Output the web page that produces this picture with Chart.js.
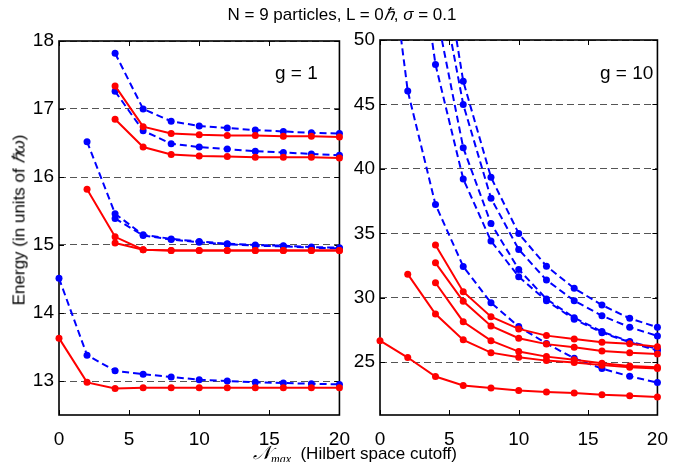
<!DOCTYPE html>
<html><head><meta charset="utf-8">
<script src="https://cdn.jsdelivr.net/npm/chart.js@4.4.1/dist/chart.umd.min.js"></script>
<style>
html,body{margin:0;padding:0;background:#fff;}
#wrap{position:relative;width:673px;height:462px;overflow:hidden;font-family:"Liberation Sans",Arial,Helvetica,sans-serif;color:#000;}
canvas{position:absolute;top:0;}
#c1{left:0;} #c2{left:345px;}
.txt{position:absolute;white-space:nowrap;line-height:1;}
#title{left:342px;top:6px;font-size:17px;transform:translateX(-50%);}
#xlabel{left:355px;top:443px;font-size:17px;transform:translateX(-50%);}
#ylabel{left:19px;top:220px;font-size:17px;transform:translate(-50%,-50%) rotate(-90deg);}
#g1{left:275px;top:63px;font-size:19px;}
#g10{left:600px;top:63px;font-size:19px;}
.cal{font-family:"DejaVu Sans","Noto Sans",serif;font-style:italic;font-size:19px;}
</style></head><body>
<div id="wrap">
<canvas id="c1" width="355" height="462"></canvas>
<canvas id="c2" width="328" height="462"></canvas>
<div class="txt" id="title">N = 9 particles, L = 0<i>ℏ</i>, <i>σ</i> = 0.1</div>
<div class="txt" id="xlabel"><span class="cal">𝒩</span><sub style="font-size:12px;font-style:italic;font-family:'Liberation Serif',serif;">max</sub>&nbsp; (Hilbert space cutoff)</div>
<div class="txt" id="ylabel">Energy (in units of <i>ℏω</i>)</div>
<div class="txt" id="g1">g = 1</div>
<div class="txt" id="g10">g = 10</div>
</div>
<script>
// Nmax cutoff values (x)
const xs = [0, 2, 4, 6, 8, 10, 12, 14, 16, 18, 20];
const xTicks = [0, 5, 10, 15, 20];

// g = 1 panel
const leftYTicks = [13, 14, 15, 16, 17, 18];
const g1Red1 = [13.63, 12.98, 12.89, 12.90, 12.90, 12.90, 12.90, 12.90, 12.90, 12.90, 12.90];
const g1Red2 = [null, 15.82, 15.12, 14.93, 14.92, 14.92, 14.92, 14.92, 14.92, 14.92, 14.92];
const g1Red3 = [null, null, 15.03, 14.93, 14.92, 14.92, 14.92, 14.92, 14.92, 14.92, 14.92];
const g1Red4 = [null, null, 16.85, 16.44, 16.33, 16.31, 16.30, 16.29, 16.29, 16.29, 16.28];
const g1Red5 = [null, null, 17.34, 16.74, 16.64, 16.62, 16.61, 16.61, 16.60, 16.60, 16.59];
const g1Blue1 = [14.51, 13.38, 13.15, 13.10, 13.06, 13.02, 13.00, 12.98, 12.97, 12.96, 12.95];
const g1Blue2 = [null, 16.52, 15.46, 15.15, 15.09, 15.05, 15.02, 15.00, 14.99, 14.97, 14.96];
const g1Blue3 = [null, null, 15.39, 15.14, 15.08, 15.04, 15.01, 14.99, 14.98, 14.96, 14.95];
const g1Blue4 = [null, null, 17.26, 16.68, 16.49, 16.44, 16.41, 16.38, 16.36, 16.34, 16.32];
const g1Blue5 = [null, null, 17.82, 17.00, 16.82, 16.75, 16.72, 16.69, 16.67, 16.65, 16.64];

// g = 10 panel
const rightYTicks = [25, 30, 35, 40, 45, 50];
const g10Red1 = [26.67, 25.36, 23.89, 23.19, 22.99, 22.80, 22.68, 22.60, 22.47, 22.39, 22.29];
const g10Red2 = [null, 31.83, 28.74, 26.73, 25.74, 25.39, 25.12, 24.97, 24.77, 24.61, 24.50];
const g10Red3 = [null, null, 34.10, 30.47, 28.53, 27.58, 27.06, 26.80, 26.55, 26.42, 26.20];
const g10Red4 = [null, null, 32.71, 29.72, 27.81, 26.86, 26.40, 26.16, 25.87, 25.74, 25.64];
const g10Red5 = [null, null, 31.16, 28.14, 26.67, 25.82, 25.43, 25.18, 24.92, 24.71, 24.61];
const g10Blue1 = [62.9, 46.05, 37.23, 32.43, 29.61, 27.76, 26.45, 25.30, 24.50, 23.90, 23.42];
const g10Blue2 = [null, 63.3, 48.10, 39.22, 34.41, 31.63, 29.77, 28.33, 27.29, 26.55, 25.90];
const g10Blue3 = [null, null, 52.5, 41.64, 35.76, 32.20, 29.90, 28.45, 27.37, 26.60, 26.03];
const g10Blue4 = [null, null, 56.4, 45.00, 37.72, 33.75, 31.37, 29.77, 28.60, 27.71, 27.04];
const g10Blue5 = [null, null, 60.1, 46.80, 39.35, 34.98, 32.45, 30.73, 29.43, 28.40, 27.71];

const RED = '#ff0000', BLUE = '#0000ff';
const FONT = {family: "'Liberation Sans', Arial, sans-serif", size: 19};

function pts(arr) { return xs.map((x, i) => ({x: x, y: arr[i]})); }
function ds(arr, color, dashed) {
  return {
    data: pts(arr),
    borderColor: color, backgroundColor: color,
    borderWidth: 2, borderDash: dashed ? [7, 4] : [],
    pointRadius: 3.5, pointBorderWidth: 0, pointBackgroundColor: color,
    tension: 0, clip: {left: 8, right: 8, top: 0, bottom: 8}, fill: false
  };
}

const framePlugin = {
  id: 'frame',
  beforeDatasetsDraw(chart) {
    const ctx = chart.ctx, a = chart.chartArea;
    const xS = chart.scales.x, yS = chart.scales.y;
    const yt = chart.options.plugins.frame.yt;
    ctx.save();
    ctx.strokeStyle = '#000';
    ctx.lineWidth = 1;
    ctx.setLineDash([]);
    ctx.beginPath();
    xTicks.forEach(v => {
      const px = Math.round(xS.getPixelForValue(v)) + 0.5;
      ctx.moveTo(px, a.bottom); ctx.lineTo(px, a.bottom - 5);
      ctx.moveTo(px, a.top); ctx.lineTo(px, a.top + 5);
    });
    yt.forEach(v => {
      const py = Math.round(yS.getPixelForValue(v)) + 0.5;
      ctx.moveTo(a.left, py); ctx.lineTo(a.left + 5, py);
      ctx.moveTo(a.right, py); ctx.lineTo(a.right - 5, py);
    });
    ctx.stroke();
    ctx.lineWidth = 1.6;
    ctx.strokeRect(a.left, a.top, a.right - a.left, a.bottom - a.top);
    ctx.restore();
  }
};

function makeChart(id, datasets, ymin, ymax, yTicks, yw, pad) {
  return new Chart(document.getElementById(id), {
    type: 'line',
    data: {datasets: datasets},
    options: {
      responsive: false, animation: false, devicePixelRatio: 1,
      layout: {autoPadding: false, padding: pad},
      plugins: {legend: {display: false}, tooltip: {enabled: false}, title: {display: false}, frame: {yt: yTicks}},
      scales: {
        x: {
          type: 'linear', min: 0, max: 20,
          afterBuildTicks: s => { s.ticks = xTicks.map(v => ({value: v})); },
          afterFit: s => { s.height = 47; },
          grid: {display: false},
          border: {display: false},
          ticks: {font: FONT, color: '#000', padding: 5, maxRotation: 0, autoSkip: false}
        },
        y: {
          type: 'linear', min: ymin, max: ymax,
          afterBuildTicks: s => { s.ticks = yTicks.map(v => ({value: v})); },
          afterFit: s => { s.width = yw; },
          grid: {display: true, drawTicks: false, color: '#555', lineWidth: 1},
          border: {display: false, dash: [7, 4]},
          ticks: {font: FONT, color: '#000', padding: 5, autoSkip: false}
        }
      }
    },
    plugins: [framePlugin]
  });
}

makeChart('c1', [
  ds(g1Red1, RED, false), ds(g1Red2, RED, false), ds(g1Red3, RED, false), ds(g1Red4, RED, false), ds(g1Red5, RED, false),
  ds(g1Blue1, BLUE, true), ds(g1Blue2, BLUE, true), ds(g1Blue3, BLUE, true), ds(g1Blue4, BLUE, true), ds(g1Blue5, BLUE, true)
], 12.5, 18, leftYTicks, 59, {top: 41, right: 13, bottom: 0, left: 0});

makeChart('c2', [
  ds(g10Red1, RED, false), ds(g10Red2, RED, false), ds(g10Red3, RED, false), ds(g10Red4, RED, false), ds(g10Red5, RED, false),
  ds(g10Blue1, BLUE, true), ds(g10Blue2, BLUE, true), ds(g10Blue3, BLUE, true), ds(g10Blue4, BLUE, true), ds(g10Blue5, BLUE, true)
], 20.9, 50, rightYTicks, 35, {top: 40, right: 9, bottom: 0, left: 0});
</script>
</body></html>
